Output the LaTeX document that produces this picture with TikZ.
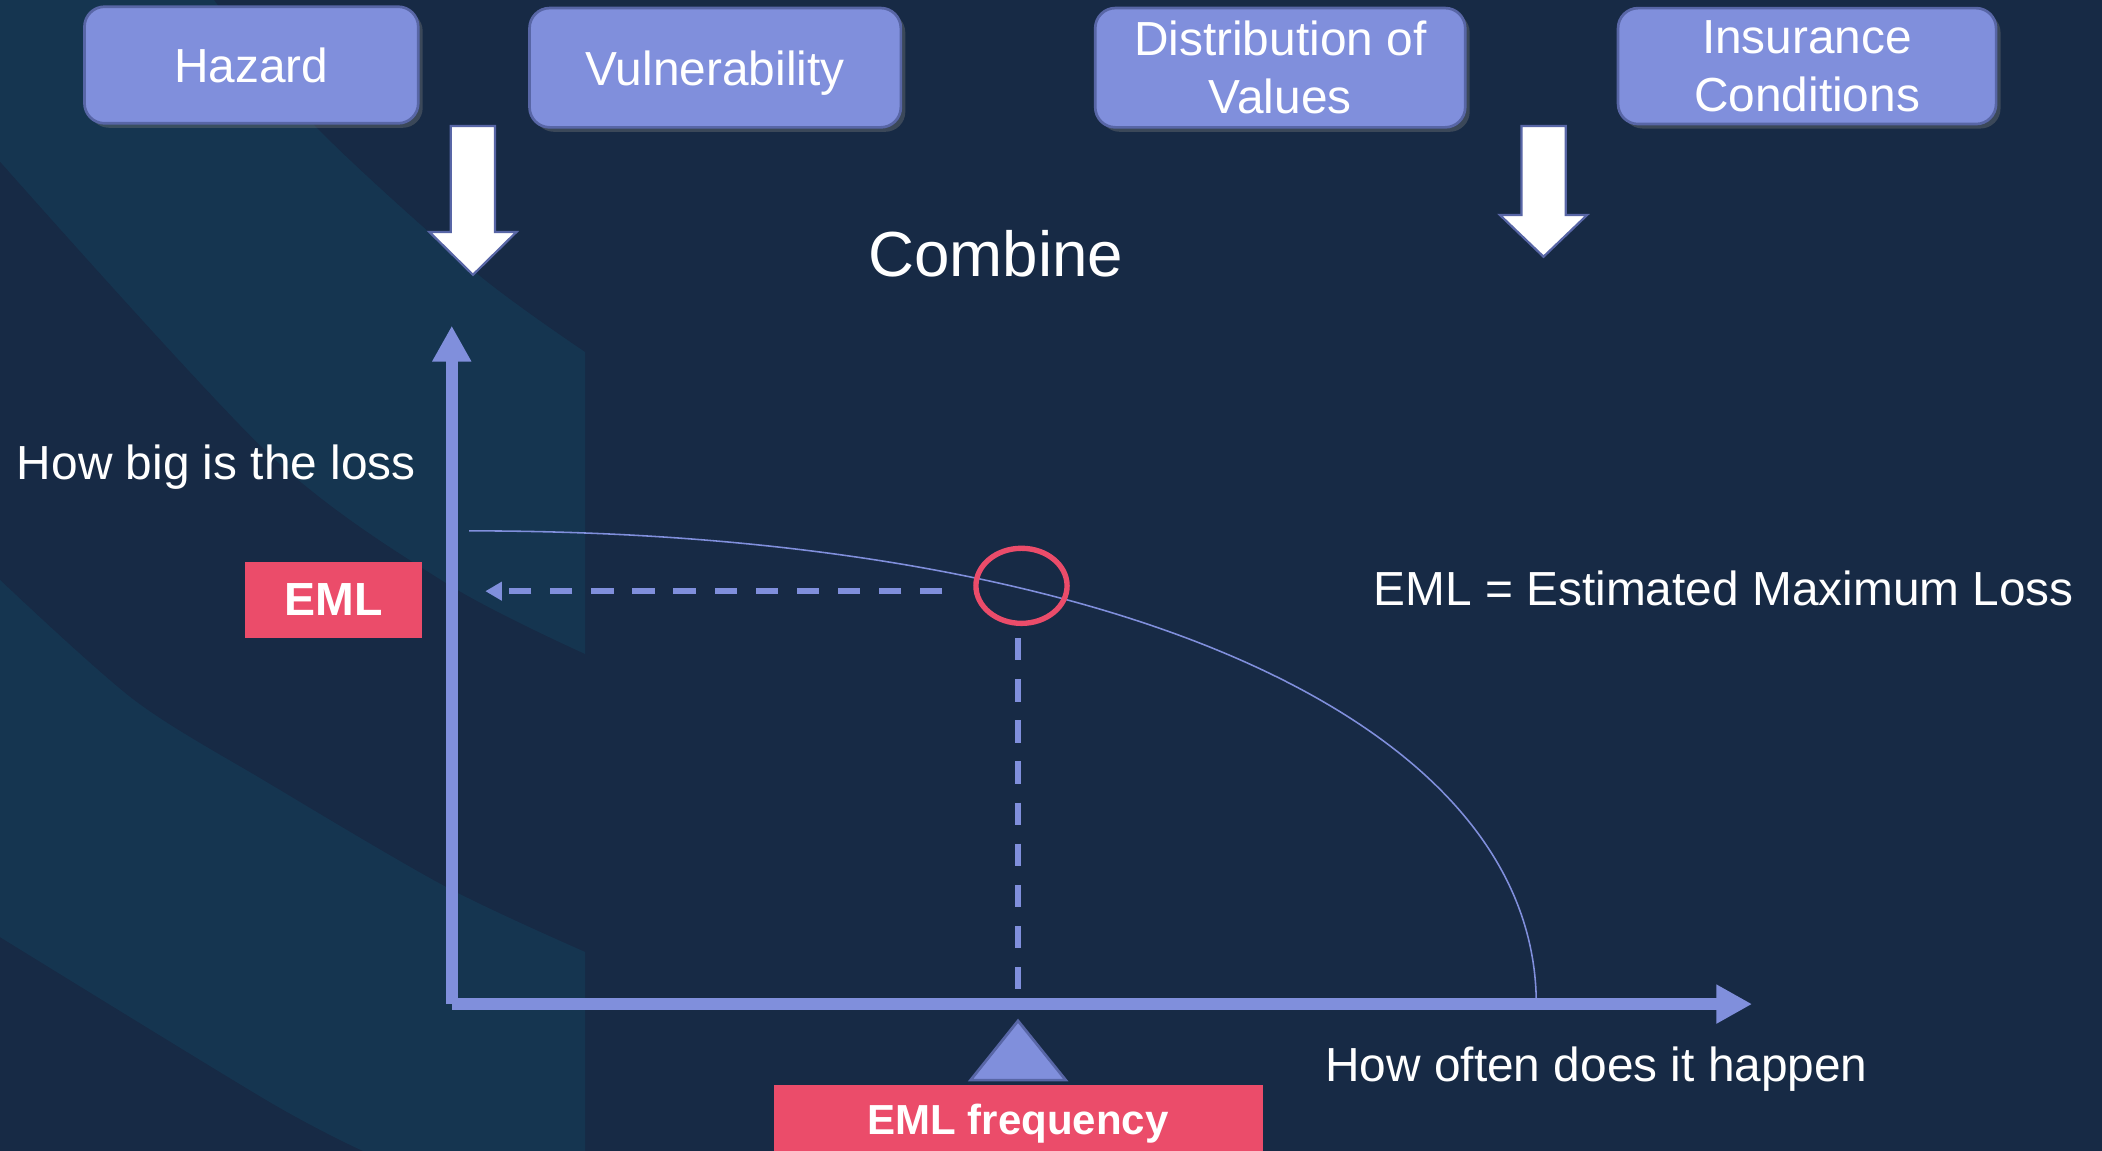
\documentclass[tikz,border=0pt]{standalone}
\usepackage{fontspec}
\setmainfont{Liberation Sans}
\usepackage{tikz}
\usetikzlibrary{shapes,arrows.meta,shadows}
\definecolor{bgnavy}{RGB}{23,42,69}
\definecolor{bandteal}{RGB}{21,53,80}
\definecolor{peri}{RGB}{128,143,220}
\definecolor{periedge}{RGB}{88,102,166}
\definecolor{emlred}{RGB}{235,76,106}
\newcommand{\px}{0.3pt}
\newcommand{\txtsize}{\fontsize{10.7}{12.9}\selectfont}
\newcommand{\blockarrow}[4]{%
  \draw[blockarr] (#1-16.5,#2) -- (#1+16.5,#2) -- (#1+16.5,#3) -- (#1+32.5,#3)
    -- (#1,#4) -- (#1-32.5,#3) -- (#1-16.5,#3) -- cycle;}

\begin{document}
\begin{tikzpicture}[x=\px,y=-\px]
    \tikzset{
        topbox/.style = {draw=periedge, fill=peri, line width=0.6pt, rounded corners=4.5pt,
            text=white, font=\txtsize, align=center, inner sep=0pt,
            drop shadow={shadow xshift=1pt, shadow yshift=-1pt, opacity=0.35}},
        lbl/.style = {text=white, font=\txtsize, inner sep=0pt},
        redbox/.style = {fill=emlred, text=white, inner sep=0pt},
        blockarr/.style = {fill=white, draw=periedge, line width=0.5pt},
        axis/.style = {draw=peri, line width=2.7pt, -{Triangle[length=8pt, width=8.2pt]}},
        dashline/.style = {draw=peri, line width=1.4pt, dash pattern=on 5pt off 4.2pt}
    }
    \useasboundingbox (0,0) rectangle (1568,858.6);
    \fill[bgnavy] (0,0) rectangle (1568,858.6);
    \clip (0,0) rectangle (1568,858.6);
    %\draw[help lines] (0,0) grid[step=100] (1568,858.6);

    % background bands
    \fill[bandteal] (0,0) -- (159.6,0)
        -- plot[smooth] coordinates {(159.6,0) (234.2,93.2) (353.9,202.6) (436.4,262.6)}
        -- (436.4,487.8)
        -- plot[smooth] coordinates {(436.4,487.8) (332.7,434.9) (199.9,337.9) (0,120.5)}
        -- cycle;
    \fill[bandteal] (0,432.6)
        -- plot[smooth] coordinates {(0,432.6) (100,522.2) (199.9,584) (332.7,661.6) (436.4,710.1)}
        -- (436.4,858.6) -- (270.8,858.6)
        -- plot[smooth] coordinates {(270.8,858.6) (199.9,821.3) (0,699)}
        -- cycle;

    % input boxes
    \node[topbox, minimum width=249*\px, minimum height=87*\px] (hazard) at (187.5,48.5) {Hazard};
    \node[topbox, text depth=0pt, minimum width=277*\px, minimum height=89*\px] (vulner) at (533.5,50.5) {Vulnerability};
    \node[topbox, minimum width=276*\px, minimum height=89*\px] (distrib) at (955,50.5) {Distribution of\\Values};
    \node[topbox, minimum width=282*\px, minimum height=86.5*\px] (insur) at (1348,49.3) {Insurance\\Conditions};

    \blockarrow{352.8}{94}{173}{205}
    \blockarrow{1151.4}{94}{160.4}{191.5}

    \node[lbl, font=\fontsize{14.25}{17}\selectfont, anchor=base west] (combine) at (647,206.4) {Combine};

    % axes
    \coordinate (origin) at (337,749);
    \coordinate (ytop) at (337,243);
    \coordinate (xend) at (1307,749);
    \draw[axis] (origin) -- (ytop);
    \draw[axis] (origin) -- (xend);

    \node[lbl, anchor=base west] (lossq) at (12,358) {How big is the loss};
    \node[lbl, anchor=base west] (freqq) at (988,806.4) {How often does it happen};
    \node[lbl, anchor=base west] (emldef) at (1024,452) {EML = Estimated Maximum Loss};

    % loss curve
    \draw[peri, line width=0.35pt] (350,396) .. controls (827.6,396) and (1146,537.2) .. (1146,749);

    \node[draw=emlred, line width=1.2pt, ellipse, inner sep=0pt, minimum width=68*\px, minimum height=56*\px] (emlpt) at (762,437) {};

    \coordinate (hdstart) at (703,441);
    \coordinate (hdend) at (362,441);
    \coordinate (vdstart) at (759.3,476);
    \coordinate (vdend) at (759.3,741);
    \draw[dashline, -{Triangle[length=3.7pt, width=4pt]}] (hdstart) -- (hdend);
    \draw[dashline] (vdstart) -- (vdend);

    \node[redbox, font=\fontsize{10.4}{12}\selectfont\bfseries, minimum width=132*\px, minimum height=57*\px] (emlbox) at (249,447.5) {EML};

    \draw[fill=peri, draw=periedge, line width=0.6pt] (759.4,761.5) -- (795,805.7) -- (724,805.7) -- cycle;
    \node[redbox, font=\fontsize{9.4}{11}\selectfont\bfseries, minimum width=365*\px, minimum height=59*\px] (freqbox) at (759.5,838.5) {EML frequency};
\end{tikzpicture}
\end{document}
